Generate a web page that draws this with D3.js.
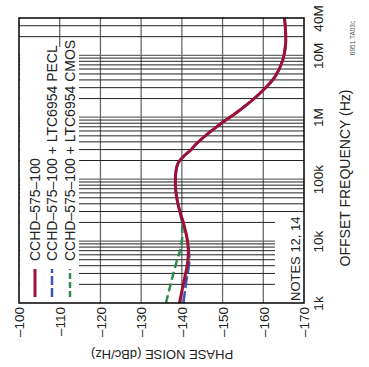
<!DOCTYPE html>
<html>
<head>
<meta charset="utf-8">
<script src="https://cdn.jsdelivr.net/npm/d3@7"></script>
<style>
  body { margin: 0; background: #fff; }
  text { font-family: "Liberation Sans", Arial, sans-serif; fill: #222; }
</style>
</head>
<body>
<div id="chart"></div>
<script>
// phase noise chart, drawn rotated (frequency runs bottom to top)
const freqs = [1e3, 2.08e3, 4.38e3, 7.17e3, 11.8e3, 19.4e3, 31.8e3, 52.1e3, 85.9e3, 141e3, 183e3,
  236e3, 296e3, 380e3, 705e3, 1.31e6, 2.44e6, 4.53e6, 8.43e6, 15.7e6, 29.1e6, 40e6];
const cchd = [-139.4, -140.4, -141.4, -141.6, -141.2, -140.4, -139.4, -138.7, -138.4, -138.6, -139.1,
  -140.5, -142.2, -143.7, -148.6, -154.3, -159.2, -162.9, -164.8, -165.5, -165.4, -165.2];
const pecl = [-140.4, -141.0, -141.8, -141.7, -141.2, -140.4, -139.4, -138.7, -138.4, -138.6, -139.1,
  -140.5, -142.2, -143.7, -148.6, -154.3, -159.2, -162.9, -164.8, -165.5, -165.4, -165.2];
const cmos = [-136.1, -137.3, -138.6, -139.6, -140.1, -140.0, -139.4, -138.7, -138.4, -138.6, -139.1,
  -140.5, -142.2, -143.7, -148.6, -154.3, -159.2, -162.9, -164.8, -165.5, -165.4, -165.2];

const dbTicks = [-100, -110, -120, -130, -140, -150, -160, -170];
const freqTicks = [1e3, 1e4, 1e5, 1e6, 1e7, 4e7];
const freqLabels = ["1k", "10k", "100k", "1M", "10M", "40M"];
const legendNames = ["CCHD\u2013575\u2013100", "CCHD\u2013575\u2013100 + LTC6954 PECL", "CCHD\u2013575\u2013100 + LTC6954 CMOS"];

const width = 369, height = 367;
const mLeft = 19, mRight = 304, mTop = 18, mBottom = 303;

const svg = d3.select("#chart").append("svg")
    .attr("width", width)
    .attr("height", height);

const x = d3.scaleLinear().domain([-100, -170]).range([mLeft, mRight]);
const y = d3.scaleLog().domain([1e3, 4e7]).range([mBottom, mTop]);

// minor frequency lines 1k..40M
const gridFreqs = [];
for (let dec = 1e3; dec <= 1e7; dec *= 10) {
    for (let m = 1; m <= 9; m++) {
        const f = dec * m;
        if (f > 1e3 && f < 4e7) gridFreqs.push(f);
    }
}
const decades = [1e4, 1e5, 1e6, 1e7];

const grid = svg.append("g");

grid.selectAll("line.v")
    .data(dbTicks.slice(1, -1))
    .join("line")
    .attr("x1", d => x(d)).attr("x2", d => x(d))
    .attr("y1", mTop).attr("y2", mBottom)
    .attr("stroke", "#6a6a6a")
    .attr("stroke-width", 1.3);

grid.selectAll("line.h")
    .data(gridFreqs)
    .join("line")
    .attr("x1", mLeft).attr("x2", mRight)
    .attr("y1", d => y(d)).attr("y2", d => y(d))
    .attr("stroke", d => decades.includes(d) ? "#6a6a6a" : "#222")
    .attr("stroke-width", d => decades.includes(d) ? 1.3 : 1);

// blank areas for legend and notes
svg.append("rect")
    .attr("x", mLeft + 1).attr("y", 47)
    .attr("width", 79 - mLeft - 1).attr("height", mBottom - 47)
    .attr("fill", "#fff");
svg.append("rect")
    .attr("x", 275).attr("y", 215)
    .attr("width", mRight - 275).attr("height", mBottom - 215)
    .attr("fill", "#fff");

const line = d3.line()
    .x(d => x(d[1]))
    .y(d => y(d[0]))
    .curve(d3.curveCatmullRom.alpha(0.5));

const series = [
    { values: cmos, color: "#2f8a4c", width: 2.5, dash: "8,4" },
    { values: pecl, color: "#3a57b3", width: 2.5, dash: "12,3" },
    { values: cchd, color: "#9e1038", width: 3, dash: null }
];

svg.append("g")
    .selectAll("path")
    .data(series)
    .join("path")
    .attr("d", s => line(freqs.map((f, i) => [f, s.values[i]])))
    .attr("fill", "none")
    .attr("stroke", s => s.color)
    .attr("stroke-width", s => s.width)
    .attr("stroke-dasharray", s => s.dash);

// frame
svg.append("rect")
    .attr("x", mLeft).attr("y", mTop)
    .attr("width", mRight - mLeft).attr("height", mBottom - mTop)
    .attr("fill", "none")
    .attr("stroke", "#000")
    .attr("stroke-width", 1.5);

// dB axis along the bottom
const xAxis = svg.append("g")
    .attr("transform", `translate(0,${mBottom})`)
    .call(d3.axisBottom(x).tickValues(dbTicks).tickSize(0).tickFormat(d => "\u2013" + Math.abs(d)));
xAxis.select(".domain").remove();
xAxis.selectAll("text")
    .attr("transform", "rotate(-90)")
    .attr("x", -4).attr("y", 0).attr("dy", "0.35em")
    .attr("text-anchor", "end")
    .style("font-size", "13.5px")
    .style("font-family", "'Liberation Sans', Arial, sans-serif")
    .attr("fill", "#222");

// frequency axis along the right
const yAxis = svg.append("g")
    .attr("transform", `translate(${mRight},0)`)
    .call(d3.axisRight(y).tickValues(freqTicks).tickSize(0).tickFormat((d, i) => freqLabels[i]));
yAxis.select(".domain").remove();
yAxis.selectAll("text")
    .attr("transform", "rotate(-90)")
    .attr("x", 0).attr("y", 14).attr("dy", "0.35em")
    .attr("text-anchor", "middle")
    .style("font-size", "13.5px")
    .style("font-family", "'Liberation Sans', Arial, sans-serif")
    .attr("fill", "#222");

// titles
svg.append("text")
    .attr("transform", "translate(345,178) rotate(-90)")
    .attr("text-anchor", "middle")
    .attr("dy", "0.35em")
    .style("font-size", "14px")
    .text("OFFSET FREQUENCY (Hz)");

svg.append("text")
    .attr("transform", "translate(162,355) rotate(180)")
    .attr("text-anchor", "middle")
    .attr("dy", "0.35em")
    .style("font-size", "13px")
    .text("PHASE NOISE (dBc/Hz)");

svg.append("text")
    .attr("transform", "translate(353,38) rotate(-90)")
    .attr("text-anchor", "middle")
    .attr("dy", "0.35em")
    .style("font-size", "6.5px")
    .style("fill", "#555")
    .text("6951 TA03c");

svg.append("text")
    .attr("transform", "translate(295,301) rotate(-90)")
    .attr("text-anchor", "start")
    .attr("dy", "0.35em")
    .style("font-size", "13px")
    .text("NOTES 12, 14");

// legend
const legX = [35, 52, 70];
const leg = svg.append("g")
    .selectAll("g")
    .data(series.slice().reverse())
    .join("g");

leg.append("line")
    .attr("x1", (d, i) => legX[i]).attr("x2", (d, i) => legX[i])
    .attr("y1", 297).attr("y2", 269)
    .attr("stroke", d => d.color)
    .attr("stroke-width", d => d.width)
    .attr("stroke-dasharray", (d, i) => i === 1 ? "9,3" : i === 2 ? "6,3" : null);

leg.append("text")
    .attr("transform", (d, i) => `translate(${legX[i]},261) rotate(-90)`)
    .attr("dy", "0.35em")
    .style("font-size", "14px")
    .text((d, i) => legendNames[i]);
</script>
</body>
</html>
